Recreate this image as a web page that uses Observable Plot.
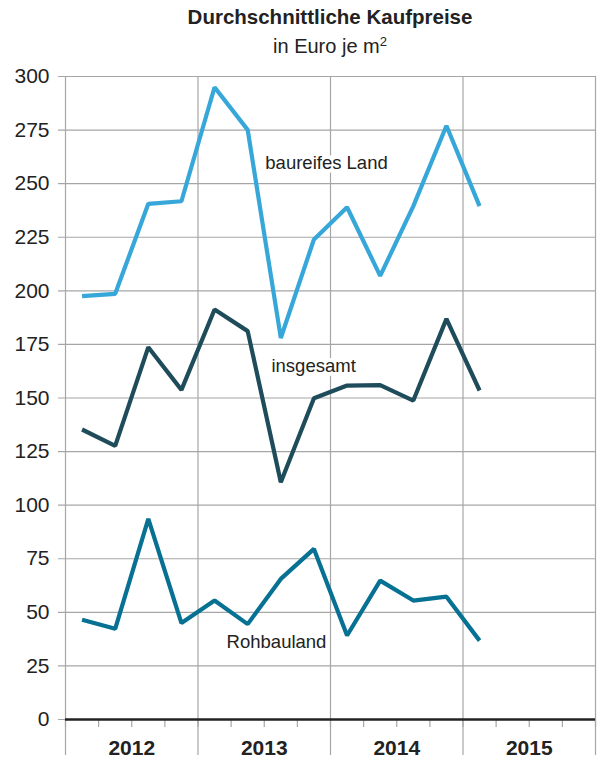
<!DOCTYPE html>
<html>
<head>
<meta charset="utf-8">
<script src="https://cdn.jsdelivr.net/npm/d3@7"></script>
<script src="https://cdn.jsdelivr.net/npm/@observablehq/plot@0.6"></script>
<style>
  body { margin: 0; background: #fff; font-family: "Liberation Sans", Arial, Helvetica, sans-serif; }
  #wrap { width: 598px; }
  #title { height: 56px; position: relative; color: #222; }
  #title .t { position: absolute; left: 0; width: 660px; text-align: center; top: 5px; font-weight: bold; font-size: 20.5px; }
  #title .s { position: absolute; left: 0; width: 660px; text-align: center; top: 35px; font-size: 20px; }
  #title .s sup { font-size: 13px; vertical-align: 0; position: relative; top: -7px; }
</style>
</head>
<body>
<div id="wrap">
  <div id="title">
    <div class="t">Durchschnittliche Kaufpreise</div>
    <div class="s">in Euro je m<sup>2</sup></div>
  </div>
  <div id="chart"></div>
</div>
<script>
const quarters = ["2012 Q1","2012 Q2","2012 Q3","2012 Q4","2013 Q1","2013 Q2","2013 Q3","2013 Q4","2014 Q1","2014 Q2","2014 Q3","2014 Q4","2015 Q1"];
const years = ["2012","2013","2014","2015"];
const baureifesLand = [197.5, 198.6, 240.6, 241.8, 295.0, 275.1, 178.0, 224.0, 239.0, 207.0, 239.5, 277.0, 239.5];
const insgesamt     = [135.3, 127.7, 173.7, 153.8, 191.3, 181.2, 110.7, 149.9, 155.8, 156.0, 148.8, 186.9, 153.5];
const rohbauland    = [46.5, 42.3, 93.6, 45.0, 55.5, 44.5, 65.6, 79.6, 39.2, 64.8, 55.5, 57.3, 36.8];
const yTicks = d3.range(0, 301, 25);

const seriesNames = ["baureifes Land", "insgesamt", "Rohbauland"];
const seriesValues = [baureifesLand, insgesamt, rohbauland];
const colors = ["#36a7d8", "#1e4c5b", "#077193"];

const rows = [];
seriesNames.forEach((name, s) => {
  seriesValues[s].forEach((v, i) => rows.push({series: name, q: i + 0.5, label: quarters[i], value: v}));
});

// label anchors (layout only)
const labels = [
  {text: "baureifes Land", q: 7.88, v: 259.4},
  {text: "insgesamt", q: 7.49, v: 164.7},
  {text: "Rohbauland", q: 6.37, v: 36.3}
];

const chart = Plot.plot({
  width: 598,
  height: 704,
  marginTop: 20,
  marginBottom: 41,
  marginLeft: 65,
  marginRight: 3,
  style: {fontFamily: '"Liberation Sans", Arial, Helvetica, sans-serif', color: "#222", background: "#fff", overflow: "visible"},
  x: {domain: [0, 16], axis: null},
  y: {domain: [0, 300], axis: null},
  color: {domain: seriesNames, range: colors},
  marks: [
    Plot.ruleY(yTicks, {stroke: "#a6a6a6", strokeWidth: 1.2, strokeOpacity: 1, insetLeft: -7}),
    Plot.ruleX(d3.range(0, 17, 4), {stroke: "#a6a6a6", strokeWidth: 1.2, insetBottom: -36}),
    Plot.axisY({ticks: yTicks, tickSize: 0, tickPadding: 16, fontSize: 21, anchor: "left", fill: "#222", label: null}),
    Plot.axisX({ticks: d3.range(0, 17, 1), tickSize: 8, tickFormat: () => "", stroke: "#a6a6a6", strokeWidth: 1.2, strokeOpacity: 1, label: null}),
    Plot.axisX({ticks: [2, 6, 10, 14], tickSize: 0, tickPadding: 21, tickFormat: (d) => years[(d - 2) / 4], fontSize: 21, fontWeight: "bold", fill: "#222", label: null}),
    Plot.ruleY([0], {stroke: "#222", strokeWidth: 2.5}),
    Plot.text(labels, {x: "q", y: "v", text: "text", fontSize: 18.5, fill: "#222", stroke: "#fff", strokeWidth: 8, paintOrder: "stroke"}),
    Plot.line(rows, {x: "q", y: "value", z: "series", stroke: "series", strokeWidth: 4.2, strokeLinejoin: "miter", strokeLinecap: "butt"})
  ]
});
document.getElementById("chart").appendChild(chart);
</script>
</body>
</html>
